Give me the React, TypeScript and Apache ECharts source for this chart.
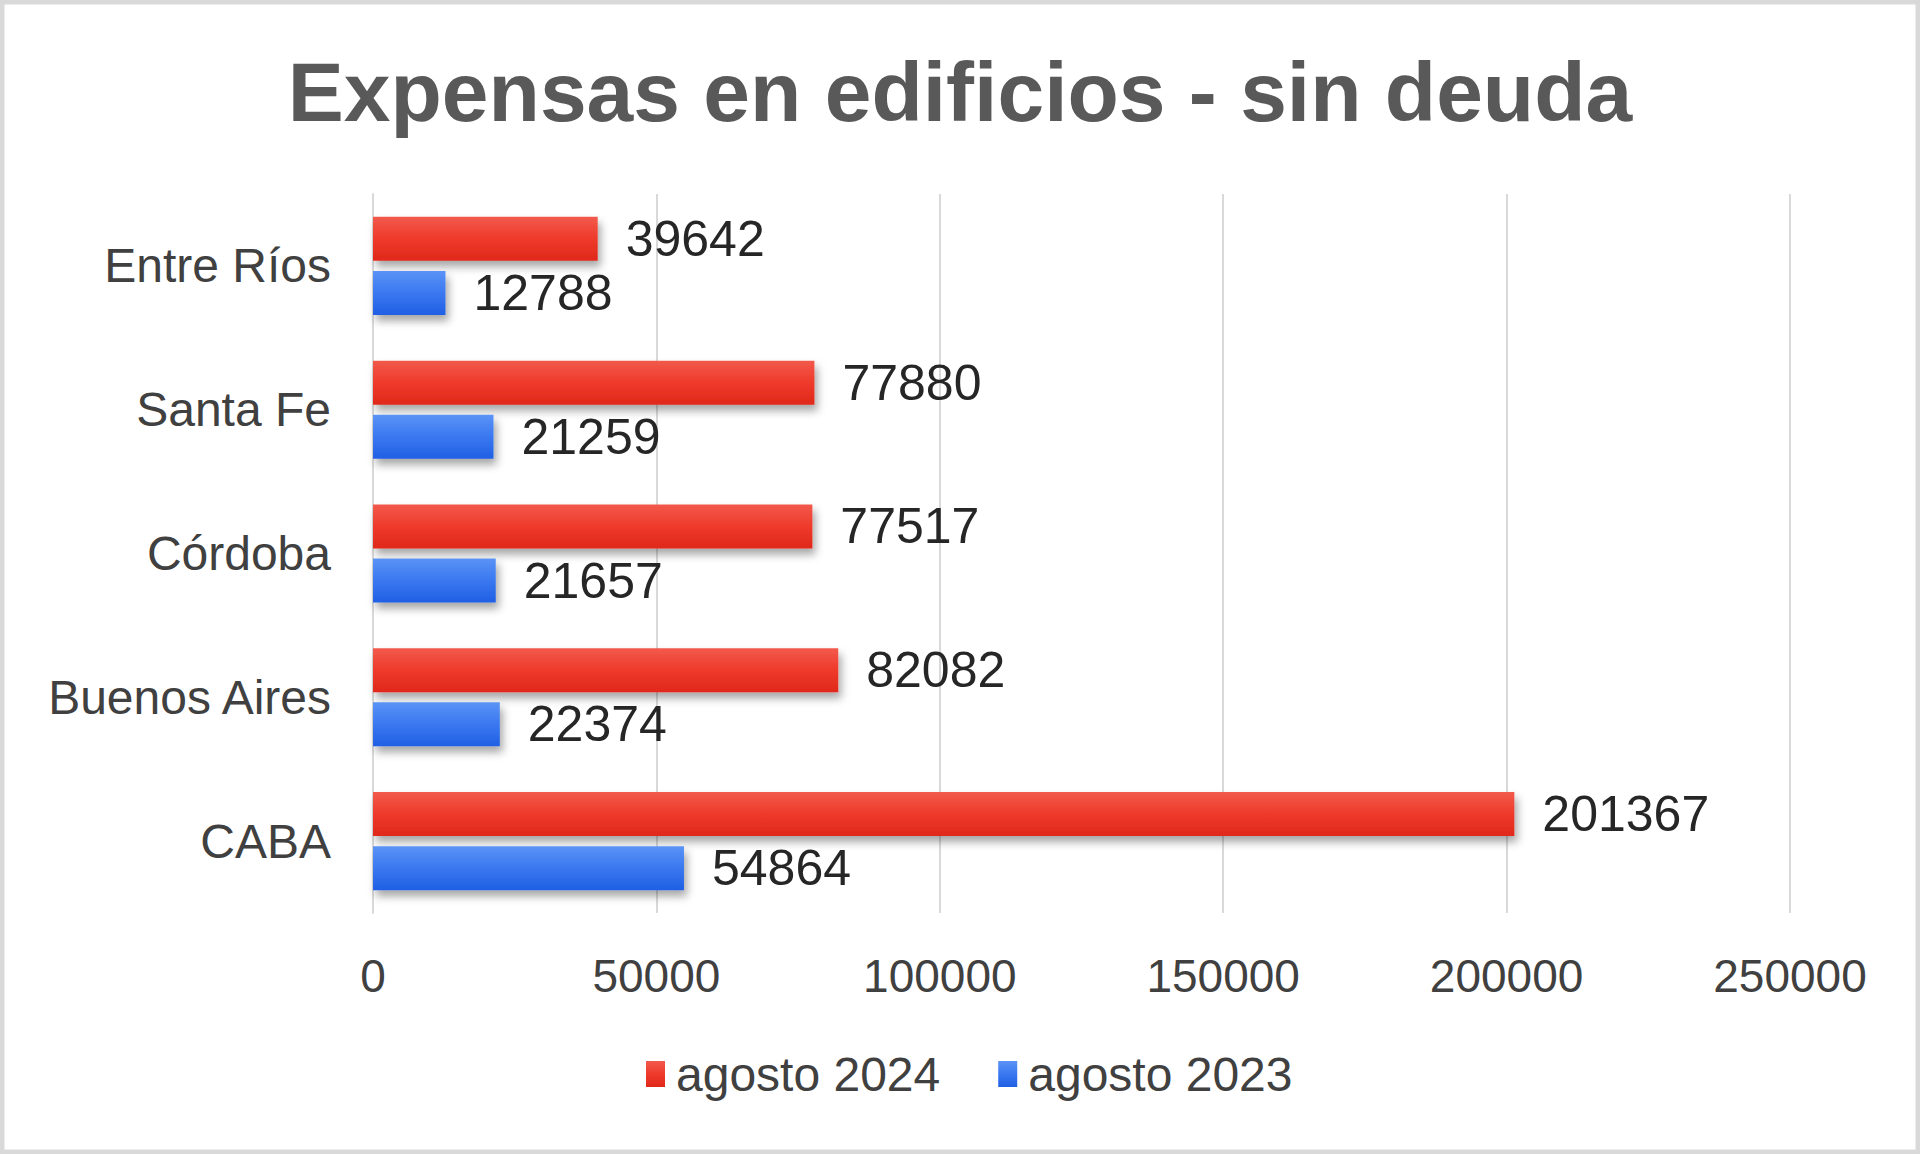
import React, { useEffect, useRef } from "react";
import * as echarts from "echarts";

const categories = ["CABA", "Buenos Aires", "Córdoba", "Santa Fe", "Entre Ríos"];
const agosto2024 = [201367, 82082, 77517, 77880, 39642];
const agosto2023 = [54864, 22374, 21657, 21259, 12788];
const seriesNames = ["agosto 2024", "agosto 2023"];
const titleText = "Expensas en edificios - sin deuda";

const FONT = "'Liberation Sans', Arial, sans-serif";

export default function App() {
  const ref = useRef<HTMLDivElement>(null);
  useEffect(() => {
    if (!ref.current) return;
    const chart = echarts.init(ref.current, undefined, { renderer: "svg" });
    const redGrad = new echarts.graphic.LinearGradient(0, 0, 0, 1, [
      { offset: 0, color: "#f25a4c" },
      { offset: 0.5, color: "#ee3a2b" },
      { offset: 1, color: "#e0281a" },
    ]);
    const blueGrad = new echarts.graphic.LinearGradient(0, 0, 0, 1, [
      { offset: 0, color: "#5b93f6" },
      { offset: 0.5, color: "#3a78f0" },
      { offset: 1, color: "#1f5fe4" },
    ]);
    const labelCommon = {
      show: true,
      position: "right",
      distance: 28,
      fontFamily: FONT,
      fontSize: 50,
      color: "#262626",
    };
    const shadow = {
      shadowBlur: 8,
      shadowOffsetX: 3,
      shadowOffsetY: 6,
      shadowColor: "rgba(0,0,0,0.35)",
    };
    chart.setOption({
      animation: false,
      backgroundColor: "#ffffff",
      graphic: [
        {
          type: "rect",
          shape: { x: 2, y: 2, width: 1916, height: 1150 },
          style: { fill: "none", stroke: "#d9d9d9", lineWidth: 5 },
          silent: true,
        },
        {
          type: "text",
          x: 960,
          y: 92,
          style: {
            text: titleText,
            fontFamily: FONT,
            fontWeight: "bold",
            fontSize: 84,
            fill: "#595959",
            align: "center",
            verticalAlign: "middle",
          },
        },
      ],
      grid: { left: 373, right: 130, top: 194, bottom: 241 },
      legend: {
        data: seriesNames,
        bottom: 51,
        left: 641,
        itemWidth: 19,
        itemHeight: 26,
        itemGap: 58,
        icon: "rect",
        textStyle: { fontFamily: FONT, fontSize: 48, color: "#404040", padding: [0, 0, 0, 6] },
      },
      xAxis: {
        type: "value",
        min: 0,
        max: 250000,
        interval: 50000,
        axisLine: { show: false },
        axisTick: { show: false },
        splitLine: { show: true, lineStyle: { color: "#d9d9d9", width: 2 } },
        axisLabel: {
          fontFamily: FONT,
          fontSize: 46,
          color: "#404040",
          margin: 40,
          formatter: (v: number) => String(v),
        },
      },
      yAxis: {
        type: "category",
        data: categories,
        axisLine: { show: true, lineStyle: { color: "#d9d9d9", width: 2 } },
        axisTick: { show: false },
        axisLabel: { fontFamily: FONT, fontSize: 48, color: "#404040", margin: 42 },
      },
      series: [
        {
          name: seriesNames[0],
          type: "bar",
          data: agosto2024,
          barWidth: 44,
          barGap: "23%",
          itemStyle: { color: redGrad, ...shadow },
          label: labelCommon,
        },
        {
          name: seriesNames[1],
          type: "bar",
          data: agosto2023,
          barWidth: 44,
          barGap: "23%",
          itemStyle: { color: blueGrad, ...shadow },
          label: labelCommon,
        },
      ],
    });
    return () => chart.dispose();
  }, []);
  return (
    <div
      ref={ref}
      style={{ position: "absolute", left: 0, top: 0, width: 1920, height: 1154 }}
    />
  );
}
